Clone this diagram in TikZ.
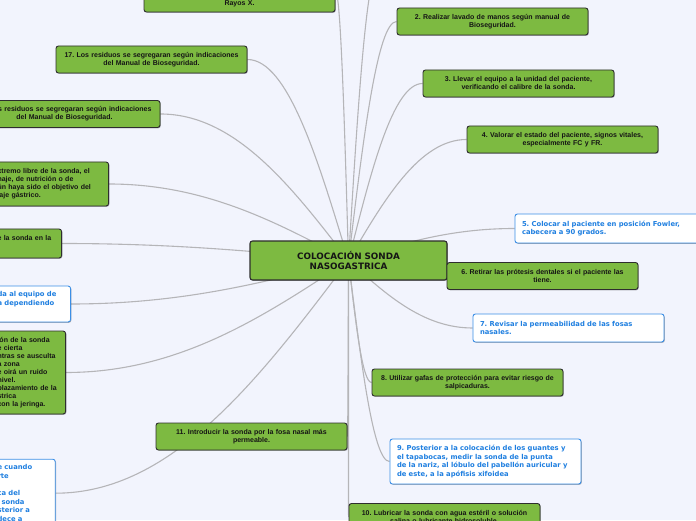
\documentclass[tikz,border=0pt]{standalone}
\usepackage{fontspec}
\usetikzlibrary{calc,shadows}
\newfontfamily\leaffamily{Liberation Sans}
\newfontfamily\notefamily{DejaVu Sans}
\frenchspacing
\definecolor{paper}{HTML}{F2F4FD}
\definecolor{leafgreen}{HTML}{7DBA41}
\definecolor{rim}{HTML}{2E2E2E}
\definecolor{ink}{HTML}{151515}
\definecolor{noteblue}{HTML}{3B8EE6}
\definecolor{notetext}{HTML}{1F7FE0}
\definecolor{wire}{HTML}{B5B5B8}
\newcommand{\leaffont}{\leaffamily\bfseries\fontsize{7}{8}\selectfont}
\newcommand{\notefont}{\notefamily\bfseries\fontsize{6.8}{8.6}\selectfont}
\newcommand{\hubfont}{\notefamily\bfseries\fontsize{8.8}{10.7}\selectfont}
\pgfdeclarelayer{back}
\pgfsetlayers{back,main}
\tikzset{
  shade/.style={drop shadow={shadow xshift=.8pt, shadow yshift=-.8pt, opacity=.3, fill=black}},
  leaf/.style={draw=rim, fill=leafgreen, line width=0.9pt, rounded corners=2.5pt, text=ink, font=\leaffont,
    align=center, text width=177pt, inner xsep=7pt, inner ysep=3pt, minimum height=27pt, shade},
  note/.style={draw=noteblue, fill=white, line width=0.9pt, rounded corners=2.5pt, text=notetext, font=\notefont,
    align=left, text width=177pt, inner xsep=7pt, inner ysep=3pt, minimum height=28pt, shade},
  hub/.style={leaf, line width=1.1pt, font=\hubfont, text width=181pt, inner xsep=8pt, minimum height=39pt},
  cut/.style={align=left, anchor=east, text width=#1},
  % straight start, flat end
  link/.style={draw=wire, line width=1.1pt,
    to path={let \p1=(\tikztostart), \p2=(\tikztotarget) in
      .. controls ({\x1+0.3*(\x2-\x1)},{\y1+0.5*(\y2-\y1)}) and ({\x2-0.4*(\x2-\x1)},\y2) .. (\tikztotarget)}},
}
\begin{document}
\begin{tikzpicture}[x=1pt,y=1pt]
  \useasboundingbox (0,0) rectangle (696,520);
  \clip (0,0) rectangle (696,520);
  \node[hub] (root) at (348.5,259.5) {COLOCACIÓN SONDA\\NASOGASTRICA};
  % right branch
  \coordinate (n1) at (378,550); % box above the page
  \node[leaf] (n2) at (492.5,498.5) {2. Realizar lavado de manos según manual de\\Bioseguridad.};
  \node[leaf] (n3) at (518.5,436.5) {3. Llevar el equipo a la unidad del paciente,\\verificando el calibre de la sonda.};
  \node[leaf] (n4) at (562.5,380.5) {4. Valorar el estado del paciente, signos vitales,\\especialmente FC y FR.};
  \node[note, minimum height=29pt] (n5) at (610.5,291.5) {5. Colocar al paciente en posición Fowler,\\cabecera a 90 grados.};
  \node[leaf] (n6) at (542.5,244) {6. Retirar las prótesis dentales si el paciente las\\tiene.};
  \node[note] (n7) at (568.5,192) {7. Revisar la permeabilidad de las fosas\\nasales.};
  \node[leaf] (n8) at (467.5,137.5) {8. Utilizar gafas de protección para evitar riesgo de\\salpicaduras.};
  \node[note, minimum height=45pt] (n9) at (485.5,58.5) {9. Posterior a la colocación de los guantes y\\el tapabocas, medir la sonda de la punta\\de la nariz, al lóbulo del pabellón auricular y\\de este, a la apófisis xifoidea};
  \node[leaf] (n10) at (444.5,3) {10. Lubricar la sonda con agua estéril o solución\\salina o lubricante hidrosoluble.};
  % left branch
  \node[leaf] (n11) at (251.5,83.5) {11. Introducir la sonda por la fosa nasal más\\permeable.};
  \node[note, cut=50.7pt, minimum height=68pt] (n12) at (55.7,26.8) {e cuando\\rte\\\strut\\ca del\\\hspace*{4pt}sonda\\sterior a\\dece a};
  \node[leaf, cut=61pt, minimum height=83pt] (n13) at (66,147.5) {ión de la sonda\\e cierta\\ntras se ausculta\\a zona\\e oirá un ruido\\nivel.\\plazamiento de la\\strica\\con la jeringa.};
  \node[note, cut=66pt, minimum height=36pt] (n14) at (71,216) {da al equipo de\\a dependiendo\\\strut};
  \node[leaf, cut=57pt, minimum height=29pt] (n15) at (62,276.5) {e la sonda en la\\\strut};
  \node[leaf, cut=104pt, minimum height=44pt] (n16) at (109,336) {xtremo libre de la sonda, el\\naje, de nutrición o de\\ún haya sido el objetivo del\\laje gástrico.};
  \node[leaf] (n17a) at (64.5,406) {17. Los residuos se segregaran según indicaciones\\del Manual de Bioseguridad.};
  \node[leaf] (n17) at (151.5,460.5) {17. Los residuos se segregaran según indicaciones\\del Manual de Bioseguridad.};
  \node[leaf, minimum height=42pt] (n18) at (239.5,529) {\strut\\\strut\\\strut\\Rayos X.};
  \begin{pgfonlayer}{back}
    \fill[paper] (0,0) rectangle (696,520);
    \draw[link] (root.center) to (n1);
    \foreach \b in {n2,n3,n4,n5,n6,n7,n8,n9,n10}
      \draw[link] (root.center) to (\b.west);
    \foreach \b in {n11,n12,n13,n14,n15,n16,n17a,n17,n18}
      \draw[link] (root.center) to (\b.east);
  \end{pgfonlayer}
\end{tikzpicture}
\end{document}
